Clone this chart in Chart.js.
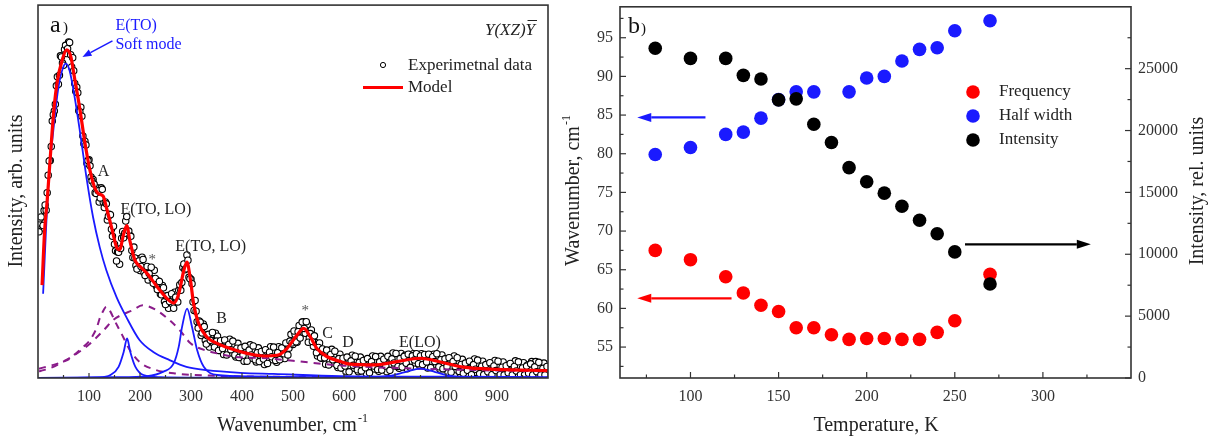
<!DOCTYPE html>
<html><head><meta charset="utf-8">
<script src="https://cdn.jsdelivr.net/npm/chart.js@4.4.0/dist/chart.umd.min.js"></script>
<style>
html,body{margin:0;padding:0;background:#fff;}
#wrap{position:relative;width:1217px;height:443px;overflow:hidden;background:#fff;}
canvas{position:absolute;top:0;}
#ca{left:0;} #cb{left:560px;}
</style></head><body>
<div id="wrap"><canvas id="ca" width="560" height="443"></canvas><canvas id="cb" width="657" height="443"></canvas></div>
<script>
// ---------------- Panel a: Raman spectrum (arb. units) ----------------
const expWavenumber = [4,8,12,16,20,24,28,32,36,40,44,48,52,56,60,64,68,72,76,80,84,88,92,96,100,104,108,112,116,120,124,128,132,136,140,144,148,152,156,160,164,168,172,176,180,184,188,192,196,200,204,208,212,216,220,224,228,232,236,240,244,248,252,256,260,264,268,272,276,280,284,288,292,296,300,304,308,312,316,320,324,328,332,336,340,344,348,352,356,360,364,368,372,376,380,384,388,392,396,400,404,408,412,416,420,424,428,432,436,440,444,448,452,456,460,464,468,472,476,480,484,488,492,496,500,504,508,512,516,520,524,528,532,536,540,544,548,552,556,560,564,568,572,576,580,584,588,592,596,600,604,608,612,616,620,624,628,632,636,640,644,648,652,656,660,664,668,672,676,680,684,688,692,696,700,704,708,712,716,720,724,728,732,736,740,744,748,752,756,760,764,768,772,776,780,784,788,792,796,800,804,808,812,816,820,824,828,832,836,840,844,848,852,856,860,864,868,872,876,880,884,888,892,896,900,904,908,912,916,920,924,928,932,936,940,944,948,952,956,960,964,968,972,976,980,984,988,992,996];
const expIntensity = [
42.7,40.2,44.9,45.0,54.4,58.3,68.9,71.6,78.4,78.8,
86.4,84.5,88.1,87.0,90.1,86.7,85.9,79.0,78.0,71.7,
72.6,64.9,63.5,57.6,58.5,53.9,53.2,49.7,51.0,47.2,
51.0,47.1,47.2,42.4,43.9,39.9,40.7,34.1,33.8,30.5,
37.5,37.6,42.1,38.8,38.2,34.2,35.1,30.2,32.0,28.8,
32.4,28.2,29.7,26.3,29.2,26.6,28.9,24.7,26.0,22.5,
24.8,20.5,21.9,18.7,21.9,19.7,23.0,20.5,23.5,23.5,
29.6,29.0,33.0,27.0,26.5,20.4,20.8,15.1,15.3,11.4,
14.5,10.1,11.3,8.3,11.5,9.3,12.0,
11.2,7.4,9.2,6.3,9.7,7.6,10.4,6.7,8.5,5.6,
9.3,5.5,7.4,4.5,8.0,6.0,8.9,5.3,7.2,4.3,
8.1,4.4,6.3,3.6,7.2,5.4,8.4,4.9,7.0,4.2,
8.4,5.2,7.5,5.2,9.2,8.0,11.7,9.0,11.7,9.6,
14.1,12.0,15.1,12.0,14.3,10.7,12.9,8.5,9.5,5.9,
9.4,5.3,6.9,3.7,7.0,4.9,7.7,4.0,5.8,2.8,
6.4,2.7,4.5,1.7,5.1,3.1,6.1,2.6,4.5,1.7,
5.6,2.0,4.0,1.2,4.8,2.9,5.9,2.4,4.5,1.8,
5.8,2.3,4.4,1.7,5.4,3.6,6.7,3.2,5.3,2.6,
6.6,3.0,6.1,2.5,6.3,4.4,6.5,4.0,6.1,3.4,
6.5,3.6,5.5,2.7,6.2,4.2,6.4,3.5,5.3,2.4,
6.2,2.5,4.4,1.5,5.0,3.0,5.9,2.2,4.1,1.2,
5.0,1.3,3.3,1.0,4.1,2.1,5.1,1.5,3.5,1.0,
4.5,1.0,2.9,0.9,3.7,1.8,4.7,1.2,3.2,0.9,
4.3,0.9,2.6,0.9,3.5,1.6,4.6,1.1,3.0,0.9,
4.1,0.9,3.5,0.9,4.4,1.5,4.4,1.0,2.9,1.0,
4.0,1.2];
// second interleaved set of measured points
const expWavenumberB = [2,6,10,14,18,22,26,30,34,38,42,46,50,54,58,62,66,70,74,78,82,86,90,94,98,102,106,110,114,118,122,126,130,134,138,142,146,150,154,158,162,166,170,174,178,182,186,190,194,198,202,206,210,214,218,222,226,230,234,238,242,246,250,254,258,262,266,270,274,278,282,286,290,294,298,302,306,310,314,318,322,326,330,334,338,342,346,350,354,358,362,366,370,374,378,382,386,390,394,398,402,406,410,414,418,422,426,430,434,438,442,446,450,454,458,462,466,470,474,478,482,486,490,494,498,502,506,510,514,518,522,526,530,534,538,542,546,550,554,558,562,566,570,574,578,582,586,590,594,598,602,606,610,614,618,622,626,630,634,638,642,646,650,654,658,662,666,670,674,678,682,686,690,694,698,702,706,710,714,718,722,726,730,734,738,742,746,750,754,758,762,766,770,774,778,782,786,790,794,798,802,806,810,814,818,822,826,830,834,838,842,846,850,854,858,862,866,870,874,878,882,886,890,894,898,902,906,910,914,918,922,926,930,934,938,942,946,950,954,958,962,966,970,974,978,982,986,990,994,998];
const expIntensityB = [
39.2,43.2,40.9,46.4,49.7,58.2,62.1,70.6,73.4,80.8,
81.2,86.1,83.9,89.2,88.3,90.0,83.4,82.4,76.9,76.5,
71.4,70.2,62.8,62.5,58.3,56.9,52.8,52.0,49.5,50.2,
48.3,50.6,45.7,46.7,43.4,43.8,38.0,35.9,31.4,33.7,
34.7,39.3,38.8,43.3,39.4,38.0,32.3,32.2,29.2,31.4,
29.9,31.8,27.5,29.9,28.0,29.7,25.4,26.7,23.7,25.9,
22.3,24.2,19.7,22.1,20.5,22.6,18.7,21.7,20.4,25.0,
25.6,30.6,29.3,31.6,26.6,25.3,18.1,17.9,13.4,15.0,
12.1,13.8,9.1,11.7,10.1,12.2,8.3,9.9,7.4,10.0,
7.9,10.2,6.2,9.0,7.6,9.9,6.2,8.0,5.5,8.1,
6.1,8.5,4.5,7.5,6.2,8.6,4.9,6.8,4.4,7.1,
5.1,7.6,3.9,6.9,5.7,8.3,4.7,6.8,4.9,8.1,
6.5,9.4,6.2,9.9,9.4,12.6,9.7,12.4,10.7,15.0,
13.3,15.1,9.6,11.9,9.8,11.3,6.8,8.2,5.4,7.8,
5.4,7.5,3.5,6.3,4.9,7.2,3.4,5.2,2.7,5.3,
3.2,5.6,1.65,4.6,3.4,5.85,2.2,4.2,1.9,4.7,
2.75,5.2,1.4,4.4,3.2,5.75,2.25,4.35,2.15,5.05,
3.2,5.8,2.05,5.15,4.05,6.6,3.1,5.2,2.95,5.8,
3.95,6.4,2.85,5.95,4.8,6.5,3.85,5.9,3.6,6.3,
4.3,6.4,2.8,5.7,4.4,6.5,3.0,4.9,2.5,5.15,
3.1,5.45,1.55,4.45,3.1,5.45,1.75,3.65,1.25,4.0,
2.05,4.5,0.9,3.6,2.35,4.8,1.2,3.15,0.9,3.6,
1.65,4.1,0.9,3.25,2.0,4.5,0.9,2.9,0.8,3.3,
1.4,3.9,0.8,3.1,1.9,4.35,0.9,2.7,0.8,3.2,
1.3,3.8,0.8,3.0,1.7,4.2,0.8,2.6,0.8,3.1];

const modelWavenumber = [8,13,18,25,31,38,47,56,64,72,82,92,102,111,118,128,134,144,154,160,168,174,180,190,201,214,234,253,266,276,286,292,299,305,315,331,351,377,410,442,469,488,508,521,534,547,567,593,612,658,704,749,795,834,900,1000];
const modelIntensity = [24.9,39.6,47.6,61,71.7,79.7,85,88,86.4,80.2,72.2,63.1,55.6,51.1,49.5,48.7,45.8,40.5,35.1,34.4,38.7,40.9,36.9,31.6,29.8,28,24.4,21.3,20.1,22.6,28.9,31.1,26.2,20,14.6,11,9.3,7.9,6.6,5.9,6.1,7.9,11.5,13.3,11,7.9,5.7,4.4,3.7,3.5,4.4,5.3,4.1,2.9,2.3,2.0];

const softModeX = [10,20,30,40,49,54.5,62,72,82,95,108,121,134,154,173,199,226,258,291,331,397,462,593,800,1000];
const softModeY = [22.6,51.2,66.3,77.9,83.2,84.3,82.4,75.2,66.3,53.8,43.1,35.1,28.9,21.7,16.4,10.2,7.0,4.8,3.0,2.1,1.4,1.1,0.5,0.35,0.25];

const peak175X = [0,120,142,158,168,174.7,181,191,207,240,400,1000];
const peak175Y = [0,0.15,0.8,3.0,7.0,10.6,7.0,3.0,0.8,0.25,0.08,0.02];

const peak292X = [0,150,214,246,266,276,282.5,292.3,302,312,325,351,420,600,1000];
const peak292Y = [0.05,0.2,0.5,1.7,3.9,8.4,13.7,18.6,13.7,7.5,3.0,0.8,0.4,0.15,0.05];

const peakLOX = [0,600,651,690,720,750,779,808,847,900,1000];
const peakLOY = [0.02,0.05,0.15,0.6,1.6,2.5,1.6,0.6,0.15,0.05,0.02];

const dashed1X = [2,11,38,43,60,76,90,100,110,116,121,126,134,142,150,160,167,180,200,230,270,350,500,1000];
const dashed1Y = [1.8,2.1,3.5,4.0,5.0,6.8,8.5,9.8,12,13.8,16,17.5,19.1,17.8,15.5,12.8,11,7.5,4.2,2.2,1.2,0.6,0.3,0.1];

const dashed2X = [2,50,100,130,147,162,186,205,232,258,278,299,318,351,384,449,500,600,750,900,1000];
const dashed2Y = [2.5,4.5,9,13,15.5,16.8,18.2,19.5,18.2,15.5,12.8,9.3,7.9,6.6,5.7,5.3,4.6,3.3,2.5,2.0,1.8];

const aTicksX = [100,200,300,400,500,600,700,800,900];
const aMinorX = [50,150,250,350,450,550,650,750,850,950];

// ---------------- Panel b: temperature dependence ----------------
const tempK = [80,100,120,130,140,150,160,170,180,190,200,210,220,230,240,250,270];
const frequency = [67.5,66.3,64.1,62.0,60.4,59.6,57.5,57.5,56.6,56.0,56.1,56.1,56.0,56.0,56.9,58.4,64.4];
const halfWidth = [79.9,80.8,82.5,82.8,84.6,87.0,88.0,88.0,null,88.0,89.8,90.0,92.0,93.5,93.7,95.9,97.2];
const intensity = [26650,25830,25830,24460,24170,22480,22560,20510,19030,17000,15860,14940,13880,12750,11660,10190,7600];

const bTicksX = [100,150,200,250,300];
const bMinorX = [75,125,175,225,275,325];
const bTicksLeft = [55,60,65,70,75,80,85,90,95];
const bMinorLeft = [52.5,57.5,62.5,67.5,72.5,77.5,82.5,87.5,92.5,97.5];
const bTicksRight = [0,5000,10000,15000,20000,25000];
const bMinorRight = [2500,7500,12500,17500,22500,27500];

// ---------------- helpers ----------------
const SERIF = "'Liberation Serif', 'Times New Roman', serif";
const pts = (xs, ys) => xs.map((x, i) => ({x: x, y: ys[i]}));
const noPad = s => { s.paddingTop = 0; s.paddingBottom = 0; s.paddingLeft = 0; s.paddingRight = 0; };

function line(ctx, x1, y1, x2, y2) { ctx.beginPath(); ctx.moveTo(x1, y1); ctx.lineTo(x2, y2); ctx.stroke(); }

function arrow(ctx, x1, y1, x2, y2, color, lw, hl, hw) {
  const ang = Math.atan2(y2 - y1, x2 - x1);
  const bx = x2 - hl * Math.cos(ang), by = y2 - hl * Math.sin(ang);
  ctx.save();
  ctx.strokeStyle = color; ctx.fillStyle = color; ctx.lineWidth = lw;
  line(ctx, x1, y1, bx, by);
  ctx.beginPath();
  ctx.moveTo(x2, y2);
  ctx.lineTo(bx + hw * Math.sin(ang), by - hw * Math.cos(ang));
  ctx.lineTo(bx - hw * Math.sin(ang), by + hw * Math.cos(ang));
  ctx.closePath(); ctx.fill();
  ctx.restore();
}

function supTitle(ctx, cx, cy, main, sup, size, rotate) {
  ctx.save();
  ctx.translate(cx, cy);
  if (rotate) ctx.rotate(-Math.PI / 2);
  ctx.fillStyle = '#222';
  ctx.textBaseline = 'middle'; ctx.textAlign = 'left';
  ctx.font = size + 'px ' + SERIF;
  const w1 = ctx.measureText(main).width;
  const supSize = Math.round(size * 0.62);
  ctx.font = supSize + 'px ' + SERIF;
  const w2 = sup ? ctx.measureText(sup).width : 0;
  const start = -(w1 + w2) / 2;
  ctx.font = size + 'px ' + SERIF;
  ctx.fillText(main, start, 0);
  if (sup) { ctx.font = supSize + 'px ' + SERIF; ctx.fillText(sup, start + w1 + 1, -size * 0.38); }
  ctx.restore();
}

function txt(ctx, s, x, y, size, color, align, base, style) {
  ctx.save();
  ctx.font = (style ? style + ' ' : '') + size + 'px ' + SERIF;
  ctx.fillStyle = color; ctx.textAlign = align || 'left'; ctx.textBaseline = base || 'alphabetic';
  ctx.fillText(s, x, y);
  ctx.restore();
}

// ---------------- Panel a plugin ----------------
const panelAPlugin = {
  id: 'panelA',
  afterDraw(chart) {
    const ctx = chart.ctx, a = chart.chartArea, X = chart.scales.x, Y = chart.scales.y;
    const px = v => X.getPixelForValue(v), py = v => Y.getPixelForValue(v);
    ctx.save();
    ctx.strokeStyle = '#333'; ctx.lineWidth = 1.2;
    aTicksX.forEach(v => line(ctx, px(v), a.bottom, px(v), a.bottom - 5));
    aMinorX.forEach(v => line(ctx, px(v), a.bottom, px(v), a.bottom - 3));
    ctx.lineWidth = 1.6; ctx.strokeStyle = '#333';
    ctx.strokeRect(a.left, a.top, a.right - a.left, a.bottom - a.top);
    ctx.restore();

    txt(ctx, 'a', 50, 32, 24, '#111');
    txt(ctx, ')', 63, 32, 15, '#111');

    const blue = '#1a1aff';
    txt(ctx, 'E(TO)', px(151.8), py(93.3), 16, blue);
    txt(ctx, 'Soft mode', px(151.8), py(88.2), 16, blue);
    arrow(ctx, px(146), py(90.4), px(87.2), py(86.1), blue, 1.5, 9, 3.5);
    txt(ctx, 'A', px(128.3), py(54.3), 16, '#222', 'center');
    txt(ctx, 'E(TO, LO)', px(161.6), py(44.1), 16, '#222');
    txt(ctx, '*', px(224), py(30.5), 15, '#555', 'center');
    txt(ctx, 'E(TO, LO)', px(269.3), py(34.0), 16, '#222');
    txt(ctx, 'B', px(349.7), py(14.7), 16, '#222');
    txt(ctx, '*', px(524), py(16.8), 15, '#555', 'center');
    txt(ctx, 'C', px(557.3), py(10.7), 16, '#222');
    txt(ctx, 'D', px(596.5), py(8.3), 16, '#222');
    txt(ctx, 'E(LO)', px(708), py(8.3), 16, '#222');

    ctx.save();
    ctx.font = 'italic 17px ' + SERIF;
    const w1 = ctx.measureText('Y(XZ)').width, w2 = ctx.measureText('Y').width;
    const sx = 535 - w1 - w2;
    ctx.fillStyle = '#222'; ctx.textBaseline = 'alphabetic';
    ctx.fillText('Y(XZ)', sx, 35);
    ctx.fillText('Y', sx + w1, 35);
    ctx.strokeStyle = '#222'; ctx.lineWidth = 1;
    line(ctx, sx + w1 + 2, 20.5, sx + w1 + w2 + 2, 20.5);
    ctx.restore();

    ctx.save();
    ctx.strokeStyle = '#000'; ctx.lineWidth = 1; ctx.fillStyle = '#fff';
    ctx.beginPath(); ctx.arc(383, 65, 2.6, 0, Math.PI * 2); ctx.fill(); ctx.stroke();
    ctx.strokeStyle = '#ff0000'; ctx.lineWidth = 3;
    line(ctx, 363, 87.5, 403, 87.5);
    ctx.restore();
    txt(ctx, 'Experimetnal data', 408, 66, 17, '#222', 'left', 'middle');
    txt(ctx, 'Model', 408, 88, 17, '#222', 'left', 'middle');

    supTitle(ctx, 17, 191, 'Intensity, arb. units', '', 20, true);
    supTitle(ctx, 292, 426, 'Wavenumber, cm', '-1', 20, false);
  }
};

const lineDs = (label, xs, ys, color, width, order, dash) => ({
  label: label, data: pts(xs, ys), showLine: true, borderColor: color, borderWidth: width,
  pointRadius: 0, cubicInterpolationMode: 'monotone', order: order, borderDash: dash || [], fill: false
});

new Chart(document.getElementById('ca'), {
  type: 'scatter',
  data: {
    datasets: [
      lineDs('Model', modelWavenumber, modelIntensity, '#ff0000', 3.2, 1),
      lineDs('E(TO) soft mode', softModeX, softModeY, '#1a1aff', 1.8, 2),
      lineDs('E(TO, LO) 175', peak175X, peak175Y, '#1a1aff', 1.8, 2),
      lineDs('E(TO, LO) 292', peak292X, peak292Y, '#1a1aff', 1.8, 2),
      lineDs('E(LO)', peakLOX, peakLOY, '#1a1aff', 1.8, 2),
      lineDs('Component 1', dashed1X, dashed1Y, '#8a1c8a', 2, 3, [7, 6]),
      lineDs('Component 2', dashed2X, dashed2Y, '#8a1c8a', 2, 3, [7, 6]),
      { label: 'Experimetnal data',
        data: pts(expWavenumber, expIntensity).concat(pts(expWavenumberB, expIntensityB)),
        showLine: false, pointRadius: 3.2, pointBorderWidth: 1.1, pointBorderColor: '#000',
        pointBackgroundColor: '#fff', order: 4 }
    ]
  },
  options: {
    responsive: false, animation: false, devicePixelRatio: 1,
    layout: { padding: { top: 4, right: 12, left: 0, bottom: 0 } },
    plugins: { legend: { display: false }, tooltip: { enabled: false } },
    scales: {
      x: { type: 'linear', min: 0, max: 1000,
        afterBuildTicks: s => { s.ticks = aTicksX.map(v => ({ value: v })); },
        afterFit: s => { s.height = 65; noPad(s); },
        grid: { display: false, drawTicks: false }, border: { display: false },
        ticks: { font: { family: SERIF, size: 16 }, color: '#333', padding: 9, autoSkip: false, maxRotation: 0 } },
      y: { type: 'linear', min: 0, max: 100,
        afterFit: s => { s.width = 38; noPad(s); },
        grid: { display: false, drawTicks: false }, border: { display: false },
        ticks: { display: false } }
    }
  },
  plugins: [panelAPlugin]
});

// ---------------- Panel b plugin ----------------
const panelBPlugin = {
  id: 'panelB',
  afterDraw(chart) {
    const ctx = chart.ctx, a = chart.chartArea, X = chart.scales.x, Y = chart.scales.y, Y1 = chart.scales.y1;
    const px = v => X.getPixelForValue(v), py = v => Y.getPixelForValue(v), py1 = v => Y1.getPixelForValue(v);
    ctx.save();
    ctx.strokeStyle = '#333'; ctx.lineWidth = 1.2;
    bTicksX.forEach(v => line(ctx, px(v), a.bottom, px(v), a.bottom - 6));
    bMinorX.forEach(v => line(ctx, px(v), a.bottom, px(v), a.bottom - 3.5));
    bTicksLeft.forEach(v => line(ctx, a.left, py(v), a.left + 6, py(v)));
    bMinorLeft.forEach(v => line(ctx, a.left, py(v), a.left + 3.5, py(v)));
    bTicksRight.forEach(v => line(ctx, a.right, py1(v), a.right - 6, py1(v)));
    bMinorRight.forEach(v => line(ctx, a.right, py1(v), a.right - 3.5, py1(v)));
    ctx.lineWidth = 1.6;
    ctx.strokeRect(a.left, a.top, a.right - a.left, a.bottom - a.top);
    ctx.restore();

    txt(ctx, 'b', 68, 33, 24, '#111');
    txt(ctx, ')', 81, 33, 15, '#111');

    arrow(ctx, px(108.5), py(84.7), px(69.8), py(84.7), '#1a1aff', 2.2, 14, 4.5);
    arrow(ctx, px(123.3), py(61.3), px(69.8), py(61.3), '#ff0000', 2.2, 14, 4.5);
    arrow(ctx, px(255.8), py1(10800), px(327.2), py1(10800), '#000', 2.2, 14, 4.5);

    const items = [['Frequency', '#ff0000', 92], ['Half width', '#1a1aff', 116], ['Intensity', '#000', 140]];
    items.forEach(it => {
      ctx.save(); ctx.fillStyle = it[1];
      ctx.beginPath(); ctx.arc(413, it[2], 6.8, 0, Math.PI * 2); ctx.fill(); ctx.restore();
      txt(ctx, it[0], 439, it[2], 17, '#222', 'left', 'middle');
    });

    supTitle(ctx, 14, 191, 'Wavenumber, cm', '-1', 20, true);
    supTitle(ctx, 638, 191, 'Intensity, rel. units', '', 20, true);
    supTitle(ctx, 316, 426, 'Temperature, K', '', 20, false);
  }
};

const ptDs = (label, ys, color, axis, order) => ({
  label: label, data: pts(tempK, ys), yAxisID: axis, showLine: false,
  pointRadius: 6.8, pointBorderWidth: 0, pointBackgroundColor: color, pointBorderColor: color, order: order
});

const tickFont = { family: SERIF, size: 16 };
new Chart(document.getElementById('cb'), {
  type: 'scatter',
  data: {
    datasets: [
      ptDs('Intensity', intensity, '#000', 'y1', 1),
      ptDs('Half width', halfWidth, '#1a1aff', 'y', 2),
      ptDs('Frequency', frequency, '#ff0000', 'y', 3)
    ]
  },
  options: {
    responsive: false, animation: false, devicePixelRatio: 1,
    layout: { padding: { top: 4, right: 0, left: 0, bottom: 0 } },
    plugins: { legend: { display: false }, tooltip: { enabled: false } },
    scales: {
      x: { type: 'linear', min: 60, max: 350,
        afterBuildTicks: s => { s.ticks = bTicksX.map(v => ({ value: v })); },
        afterFit: s => { s.height = 65; noPad(s); },
        grid: { display: false, drawTicks: false }, border: { display: false },
        ticks: { font: tickFont, color: '#333', padding: 9, autoSkip: false, maxRotation: 0 } },
      y: { type: 'linear', position: 'left', min: 51, max: 99,
        afterBuildTicks: s => { s.ticks = bTicksLeft.map(v => ({ value: v })); },
        afterFit: s => { s.width = 60; noPad(s); },
        grid: { display: false, drawTicks: false }, border: { display: false },
        ticks: { font: tickFont, color: '#333', padding: 7, autoSkip: false } },
      y1: { type: 'linear', position: 'right', min: 0, max: 30000,
        afterBuildTicks: s => { s.ticks = bTicksRight.map(v => ({ value: v })); },
        afterFit: s => { s.width = 86; noPad(s); },
        grid: { display: false, drawTicks: false }, border: { display: false },
        ticks: { font: tickFont, color: '#333', padding: 7, autoSkip: false, callback: v => String(v) } }
    }
  },
  plugins: [panelBPlugin]
});
</script>
</body></html>
